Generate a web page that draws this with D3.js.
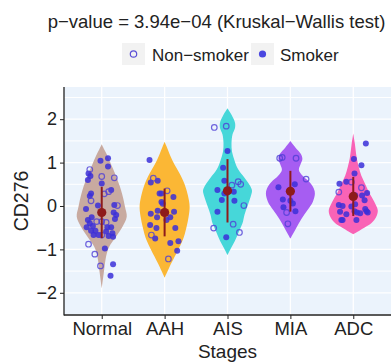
<!DOCTYPE html>
<html>
<head>
<meta charset="utf-8">
<script src="https://cdn.jsdelivr.net/npm/d3@7"></script>
<style>
  html, body { margin: 0; padding: 0; background: #ffffff; }
  svg { display: block; font-family: "Liberation Sans", Arial, sans-serif; }
</style>
</head>
<body>
<svg id="chart" width="391" height="364"></svg>
<script>
// ---- data ----
const stages = ["Normal", "AAH", "AIS", "MIA", "ADC"];
const stageColors = ["#C8AAA0", "#FBB735", "#46D7D9", "#A65DF2", "#F963B6"];
const yTicks = [-2, -1, 0, 1, 2];

// group mean and standard deviation of CD276
const means = [-0.15, -0.15, 0.35, 0.34, 0.22];
const sds = [0.59, 0.55, 0.73, 0.47, 0.45];

// violin outlines: [CD276 value, relative density]
const densityNormal = [[1.42,0],[1.3,0.1],[1.14,0.24],[0.95,0.38],[0.75,0.53],[0.55,0.66],[0.37,0.77],[0.15,0.87],[-0.02,0.93],[-0.25,1.0],[-0.48,0.83],[-0.71,0.57],[-0.94,0.3],[-1.1,0.2],[-1.24,0.15],[-1.55,0.08],[-1.9,0]];
const densityAAH = [[1.48,0],[1.37,0.08],[1.14,0.24],[0.95,0.4],[0.75,0.6],[0.5,0.8],[0.25,0.93],[0.0,1.0],[-0.25,0.96],[-0.5,0.87],[-0.78,0.73],[-1.0,0.55],[-1.17,0.4],[-1.4,0.2],[-1.55,0.08],[-1.65,0]];
const densityAIS = [[2.25,0],[2.1,0.16],[1.92,0.3],[1.8,0.3],[1.65,0.2],[1.45,0.16],[1.25,0.18],[1.05,0.28],[0.85,0.42],[0.65,0.68],[0.45,0.92],[0.35,0.98],[0.2,0.92],[0.0,0.8],[-0.2,0.68],[-0.4,0.6],[-0.6,0.45],[-0.8,0.3],[-0.95,0.16],[-1.13,0]];
const densityMIA = [[1.5,0],[1.35,0.2],[1.2,0.42],[1.08,0.48],[0.95,0.4],[0.83,0.34],[0.7,0.48],[0.55,0.76],[0.4,0.94],[0.28,0.98],[0.1,0.9],[-0.1,0.68],[-0.3,0.44],[-0.5,0.24],[-0.75,0]];
const densityADC = [[1.67,0],[1.45,0.06],[1.1,0.14],[0.9,0.22],[0.7,0.32],[0.5,0.48],[0.3,0.64],[0.1,0.84],[-0.1,0.98],[-0.25,0.92],[-0.4,0.72],[-0.5,0.44],[-0.65,0]];

// samples: [CD276 value, jitter (fraction of category step), smoker (1) / non-smoker (0)]
const samplesNormal = [[1.04,-0.02,1],[1.10,0.10,1],[0.91,0.10,1],[0.84,-0.19,0],[0.75,-0.21,1],[0.69,-0.18,1],[0.60,-0.22,1],[0.68,0.00,0],[0.65,0.20,0],[0.52,0.00,1],[0.37,0.15,1],[0.33,0.11,0],[0.28,0.04,0],[0.29,-0.17,1],[0.23,-0.19,1],[0.12,-0.17,0],[0.02,0.20,1],[0.01,0.25,0],[-0.07,-0.25,1],[0.01,-0.06,1],[-0.15,0.19,1],[-0.21,0.23,1],[-0.30,0.21,1],[-0.26,-0.16,1],[-0.32,-0.22,1],[-0.36,-0.08,0],[-0.36,0.00,0],[-0.38,0.07,0],[-0.40,-0.19,1],[-0.46,-0.14,1],[-0.49,-0.24,1],[-0.49,0.09,1],[-0.49,0.15,1],[-0.57,-0.17,1],[-0.57,-0.10,1],[-0.59,0.07,1],[-0.63,0.17,1],[-0.67,-0.13,1],[-0.67,-0.05,1],[-0.67,0.00,0],[-0.69,0.11,1],[-0.71,0.18,1],[-0.88,-0.21,0],[-0.98,0.05,1],[-1.11,-0.11,0],[-1.38,-0.02,0],[-1.34,0.18,1],[-1.61,0.14,1]];
const samplesAAH = [[1.06,-0.24,1],[0.64,-0.18,0],[0.54,-0.22,1],[0.58,-0.11,1],[0.29,-0.08,1],[0.29,-0.05,1],[0.35,0.04,0],[0.21,0.14,1],[0.09,-0.05,1],[0.05,-0.03,1],[-0.11,-0.11,1],[-0.18,-0.22,1],[-0.13,0.15,1],[-0.26,-0.12,1],[-0.26,0.09,1],[-0.32,0.03,1],[-0.44,-0.23,1],[-0.51,-0.13,1],[-0.51,0.17,1],[-0.67,-0.21,0],[-0.75,-0.15,1],[-0.85,0.09,1],[-0.81,0.22,1],[-1.03,0.20,1],[-1.22,0.06,0]];
const samplesAIS = [[1.81,-0.21,0],[1.84,-0.02,0],[1.27,0.00,1],[0.88,-0.07,1],[0.58,-0.05,1],[0.56,0.17,0],[0.50,0.21,0],[0.48,0.07,0],[0.37,-0.16,1],[0.33,0.10,1],[0.29,-0.05,1],[0.14,-0.09,1],[0.12,0.11,1],[0.01,0.26,0],[-0.13,-0.16,1],[-0.42,0.09,0],[-0.51,-0.22,0],[-0.61,0.19,0],[-0.72,-0.02,1]];
const samplesMIA = [[1.10,-0.17,0],[1.12,-0.13,0],[1.10,0.09,0],[0.62,0.25,0],[0.50,0.07,1],[0.43,-0.19,1],[0.15,-0.12,1],[0.12,0.00,1],[0.06,0.04,1],[-0.03,-0.11,1],[-0.12,0.08,1],[-0.15,-0.06,0],[-0.41,-0.04,0]];
const samplesADC = [[1.44,0.20,1],[1.08,0.01,1],[0.94,0.13,1],[0.75,0.02,1],[0.55,-0.03,0],[0.56,-0.11,1],[0.51,-0.22,1],[0.42,0.13,0],[0.32,-0.23,0],[0.30,0.22,1],[0.24,0.14,1],[0.25,0.03,1],[0.13,0.18,1],[0.02,-0.23,1],[0.00,-0.17,1],[-0.01,-0.03,1],[0.04,0.03,1],[-0.07,0.19,1],[-0.13,-0.21,1],[-0.19,-0.11,1],[-0.12,0.02,1],[-0.15,0.06,1],[-0.17,0.11,1],[-0.12,0.21,1],[-0.15,0.23,1],[-0.32,-0.19,1],[-0.32,-0.17,1],[-0.32,0.05,1]];

const densities = [densityNormal, densityAAH, densityAIS, densityMIA, densityADC];
const samples = [samplesNormal, samplesAAH, samplesAIS, samplesMIA, samplesADC];

const titleText = "p\u2212value = 3.94e\u221204 (Kruskal\u2212Wallis test)";
const legendLabels = ["Non\u2212smoker", "Smoker"];
const xTitle = "Stages";
const yTitle = "CD276";

// ---- layout ----
const panel = { left: 64, right: 391, top: 87, bottom: 315 };
const pointFill = "#3b2fd8";
const ringStroke = "#4f3fd6";
const meanColor = "#8E1B1B";
const gridColor = "#ffffff";
const panelBg = "#EBF3FC";

const svg = d3.select("#chart");

const x = d3.scalePoint().domain(stages).range([panel.left, panel.right]).padding(0.6);
const y = d3.scaleLinear().domain([-2.512, 2.742]).range([panel.bottom, panel.top]);
const halfWidth = d3.scaleLinear().domain([0, 1]).range([0, 25]);

// panel background
svg.append("rect")
  .attr("x", panel.left).attr("y", panel.top)
  .attr("width", panel.right - panel.left).attr("height", panel.bottom - panel.top)
  .attr("fill", panelBg);

// grid: minor at half units, major at whole units, vertical at stages
const minorTicks = d3.range(-2.5, 2.51, 1);
const grid = svg.append("g");
grid.selectAll("line.minor").data(minorTicks).join("line")
  .attr("class", "minor")
  .attr("x1", panel.left).attr("x2", panel.right)
  .attr("y1", d => y(d)).attr("y2", d => y(d))
  .attr("stroke", gridColor).attr("stroke-width", 1);
grid.selectAll("line.major").data(yTicks).join("line")
  .attr("class", "major")
  .attr("x1", panel.left).attr("x2", panel.right)
  .attr("y1", d => y(d)).attr("y2", d => y(d))
  .attr("stroke", gridColor).attr("stroke-width", 1.3);
grid.selectAll("line.vert").data(stages).join("line")
  .attr("class", "vert")
  .attr("x1", d => x(d)).attr("x2", d => x(d))
  .attr("y1", panel.top).attr("y2", panel.bottom)
  .attr("stroke", gridColor).attr("stroke-width", 1.3);

// violins
const violins = svg.append("g");
stages.forEach((s, i) => {
  const cx = x(s);
  const area = d3.area()
    .curve(d3.curveCatmullRom.alpha(0.5))
    .y(d => y(d[0]))
    .x0(d => cx - halfWidth(d[1]))
    .x1(d => cx + halfWidth(d[1]));
  violins.append("path")
    .attr("d", area(densities[i]))
    .attr("fill", stageColors[i]);
});

// jittered samples
const step = x.step();
const dots = svg.append("g");
stages.forEach((s, i) => {
  const cx = x(s);
  const g = dots.append("g");
  g.selectAll("circle.smoker").data(samples[i].filter(d => d[2] === 1)).join("circle")
    .attr("cx", d => cx + d[1] * step)
    .attr("cy", d => y(d[0]))
    .attr("r", 3)
    .attr("fill", pointFill)
    .attr("fill-opacity", 0.85);
  g.selectAll("circle.non").data(samples[i].filter(d => d[2] === 0)).join("circle")
    .attr("cx", d => cx + d[1] * step)
    .attr("cy", d => y(d[0]))
    .attr("r", 2.8)
    .attr("fill", "none")
    .attr("stroke", ringStroke)
    .attr("stroke-opacity", 0.8)
    .attr("stroke-width", 1.2);
});

// mean ± sd
const summary = svg.append("g");
stages.forEach((s, i) => {
  summary.append("line")
    .attr("x1", x(s)).attr("x2", x(s))
    .attr("y1", y(means[i] - sds[i])).attr("y2", y(means[i] + sds[i]))
    .attr("stroke", meanColor).attr("stroke-width", 2);
  summary.append("circle")
    .attr("cx", x(s)).attr("cy", y(means[i]))
    .attr("r", 4.6).attr("fill", meanColor);
});

// axes
const yAxis = svg.append("g")
  .attr("transform", `translate(${panel.left},0)`)
  .call(d3.axisLeft(y).tickValues(yTicks).tickSize(4).tickPadding(3)
    .tickFormat(d => d < 0 ? "\u2212" + Math.abs(d) : String(d)));
yAxis.select(".domain").remove();
yAxis.selectAll(".tick line").attr("stroke", "#222");
yAxis.selectAll(".tick text").attr("fill", "#222").style("font-size", "18px")
  .style("font-family", "Liberation Sans, Arial, sans-serif");

const xAxis = svg.append("g")
  .attr("transform", `translate(0,${panel.bottom})`)
  .call(d3.axisBottom(x).tickSize(4).tickPadding(3));
xAxis.select(".domain").remove();
xAxis.selectAll(".tick line").attr("stroke", "#222");
xAxis.selectAll(".tick text").attr("fill", "#222").style("font-size", "18.5px")
  .style("font-family", "Liberation Sans, Arial, sans-serif");

// axis lines
svg.append("line")
  .attr("x1", panel.left).attr("x2", panel.left)
  .attr("y1", panel.top).attr("y2", panel.bottom + 0.5)
  .attr("stroke", "#222").attr("stroke-width", 1.3);
svg.append("line")
  .attr("x1", panel.left).attr("x2", panel.right)
  .attr("y1", panel.bottom).attr("y2", panel.bottom)
  .attr("stroke", "#222").attr("stroke-width", 1.3);

// axis titles
svg.append("text")
  .attr("x", (panel.left + panel.right) / 2).attr("y", 357.5)
  .attr("text-anchor", "middle").attr("fill", "#222")
  .style("font-size", "19px").text(xTitle);
svg.append("text")
  .attr("transform", `translate(28,${(panel.top + panel.bottom) / 2}) rotate(-90)`)
  .attr("text-anchor", "middle").attr("fill", "#222")
  .style("font-size", "19.5px").text(yTitle);

// title
svg.append("text")
  .attr("x", 216.5).attr("y", 27.5)
  .attr("text-anchor", "middle").attr("fill", "#222")
  .style("font-size", "18.5px").text(titleText);

// legend
const legend = svg.append("g");
const keyX = [122, 251];
const labelX = [152, 280];
keyX.forEach((kx, i) => {
  legend.append("rect")
    .attr("x", kx).attr("y", 43).attr("width", 23).attr("height", 22)
    .attr("fill", "#F2F2F2");
  const c = legend.append("circle")
    .attr("cx", kx + 11.5).attr("cy", 54).attr("r", i === 0 ? 3.2 : 3.6);
  if (i === 0) c.attr("fill", "none").attr("stroke", "#5b4fd6").attr("stroke-width", 1.2);
  else c.attr("fill", "#4a47e0");
  legend.append("text")
    .attr("x", labelX[i]).attr("y", 60.5)
    .attr("fill", "#222").style("font-size", "17px").text(legendLabels[i]);
});
</script>
</body>
</html>
